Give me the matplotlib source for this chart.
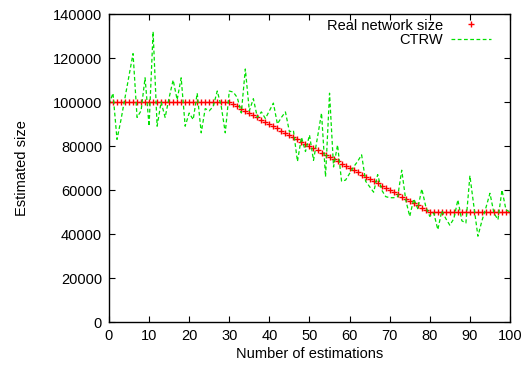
import matplotlib
matplotlib.use("Agg")
import matplotlib.pyplot as plt
import numpy as np

# === DATA ===
estimations = list(range(0, 101))

real_size = [
    100000, 100000, 100000, 100000, 100000, 100000, 100000, 100000, 100000, 100000,
    100000, 100000, 100000, 100000, 100000, 100000, 100000, 100000, 100000, 100000,
    100000, 100000, 100000, 100000, 100000, 100000, 100000, 100000, 100000, 100000,
    100000, 99000, 98000, 97000, 96000, 95000, 94000, 93000, 92000, 91000,
    90000, 89000, 88000, 87000, 86000, 85000, 84000, 83000, 82000, 81000,
    80000, 79000, 78000, 77000, 76000, 75000, 74000, 73000, 72000, 71000,
    70000, 69000, 68000, 67000, 66000, 65000, 64000, 63000, 62000, 61000,
    60000, 59000, 58000, 57000, 56000, 55000, 54000, 53000, 52000, 51000,
    50000, 50000, 50000, 50000, 50000, 50000, 50000, 50000, 50000, 50000,
    50000, 50000, 50000, 50000, 50000, 50000, 50000, 50000, 50000, 50000,
    50000,
]

ctrw = [
    99000, 104000, 83000, 92000, 102000, 112000, 122000, 93000, 96000, 111000,
    89000, 132000, 89000, 100000, 93000, 102000, 110000, 101000, 111000, 89000,
    95000, 92000, 104000, 86000, 97000, 96000, 98000, 105000, 98000, 86000,
    105000, 104500, 102000, 95000, 115000, 96000, 101500, 93000, 95500, 92500,
    96000, 99500, 90000, 93000, 95500, 86500, 87000, 73000, 84000, 77500,
    85000, 73500, 84000, 95000, 66000, 104000, 70500, 80500, 64000, 64500,
    67500, 70500, 73000, 76000, 64000, 61500, 59000, 67000, 60000, 57000,
    56500, 56500, 57000, 69000, 55500, 48000, 56000, 51500, 60500, 52500,
    48000, 49500, 42000, 50500, 47000, 44000, 47000, 55500, 46000, 45000,
    66500, 52500, 39000, 46000, 52000, 58500, 49500, 46500, 60000, 51000,
    50000,
]

x_ticks = list(range(0, 101, 10))
y_ticks = list(range(0, 140001, 20000))

# === PLOT ===
plt.rcParams['font.family'] = ['Liberation Sans', 'DejaVu Sans']
plt.rcParams['font.size'] = 10.5

fig = plt.figure(figsize=(5.28, 3.66), dpi=100)
ax = fig.add_axes([0.2064, 0.1202, 0.7595, 0.8415])

ax.plot(estimations, real_size, linestyle='none', marker='+', color='red',
        markersize=5, markeredgewidth=1.0, label='Real network size')
ax.plot(estimations, ctrw, linestyle=(0, (3, 2)), color='#00e000',
        linewidth=0.9, label='CTRW')

ax.set_xlim(0, 100)
ax.set_ylim(0, 140000)
ax.set_xticks(x_ticks)
ax.set_yticks(y_ticks)
ax.tick_params(direction='in', top=True, right=True, length=4, width=0.8, pad=5)
for sp in ax.spines.values():
    sp.set_linewidth(1.0)

ax.set_xlabel("Number of estimations", labelpad=3)
ax.set_ylabel("Estimated size", labelpad=17)

ax.legend(loc='upper right', bbox_to_anchor=(0.99, 1.035), frameon=False,
          markerfirst=False, handlelength=2.7, handletextpad=0.55,
          labelspacing=0.05, borderaxespad=0.75, borderpad=0.3, fontsize=10.5)

fig.savefig("out.png", dpi=100)
